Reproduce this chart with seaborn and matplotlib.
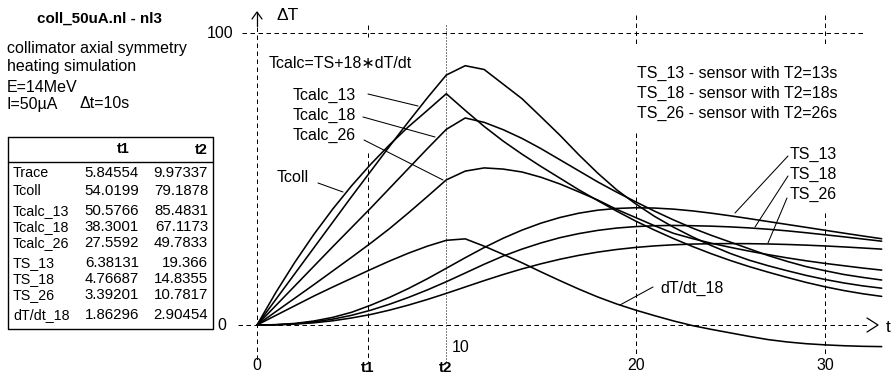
import matplotlib
matplotlib.use("Agg")
import matplotlib.pyplot as plt
import seaborn as sns
import pandas as pd

# ---------------- data ----------------
t = list(range(34))
tcoll = [0, 11.2, 21.5, 31.0, 39.7, 47.7, 55.0, 61.7, 67.9, 73.5,
         79.2, 73.5, 68.0, 63.0, 58.5, 54.3, 50.3, 46.3, 42.6, 39.0,
         35.6, 32.5, 29.6, 26.9, 24.4, 22.1, 20.0, 18.1, 16.3, 14.6,
         13.1, 11.8, 10.7, 9.8]
tcalc_13 = [0, 8.8, 17.6, 26.4, 35.2, 44.0, 52.6, 61.2, 69.6, 77.8,
            85.6, 88.8, 87.5, 82.5, 77.5, 71.3, 65.0, 58.3, 52.0, 46.3,
            41.5, 37.2, 33.5, 30.2, 27.2, 24.5, 22.2, 20.3, 18.6, 17.0,
            15.6, 14.4, 13.4, 12.6]
tcalc_18 = [0, 6.7, 13.4, 20.1, 26.8, 33.4, 40.0, 46.8, 53.6, 60.4,
            67.0, 70.9, 69.4, 66.9, 63.9, 60.4, 56.6, 52.8, 49.0, 45.5,
            42.2, 39.0, 36.0, 33.2, 30.7, 28.4, 26.1, 23.8, 21.8, 20.0,
            18.6, 17.3, 16.3, 15.4]
tcalc_26 = [0, 4.6, 9.2, 13.8, 18.5, 23.2, 28.0, 33.0, 38.4, 44.0,
            49.7, 52.7, 53.8, 53.4, 52.4, 50.6, 48.3, 45.6, 42.8, 39.6,
            36.8, 34.0, 31.4, 29.6, 28.0, 26.6, 25.3, 24.1, 23.0, 22.0,
            21.1, 20.3, 19.5, 18.8]
ts_13 = [0, 0.11, 0.54, 1.36, 2.61, 4.36, 6.76, 9.46, 12.5, 15.84,
         19.42, 23.04, 26.52, 29.7, 32.5, 34.88, 36.81, 38.29, 39.32, 39.92,
         40.15, 40.05, 39.68, 39.08, 38.3, 37.4, 36.43, 35.43, 34.44, 33.45,
         32.45, 31.46, 30.49, 29.54]
ts_18 = [0, 0.09, 0.41, 1.04, 2.0, 3.33, 5.05, 7.11, 9.44, 12.02,
         14.82, 17.8, 20.8, 23.6, 26.0, 28.1, 29.9, 31.3, 32.4, 33.2,
         33.7, 34.0, 34.1, 34.0, 33.85, 33.6, 33.25, 32.8, 32.25, 31.6,
         30.9, 30.2, 29.45, 28.7]
ts_26 = [0, 0.06, 0.3, 0.75, 1.44, 2.41, 3.59, 5.09, 6.82, 8.74,
         10.83, 13.02, 15.2, 17.28, 19.21, 20.96, 22.51, 23.85, 24.96, 25.86,
         26.56, 27.09, 27.47, 27.71, 27.84, 27.88, 27.85, 27.75, 27.58, 27.35,
         27.07, 26.74, 26.37, 25.98]
dtdt_18 = [0, 3.3, 6.6, 9.9, 13.0, 16.0, 19.0, 21.9, 24.6, 27.0,
           29.0, 29.5, 27.0, 24.2, 21.3, 18.2, 15.2, 12.3, 9.6, 7.2,
           5.1, 3.2, 1.4, -0.2, -1.5, -2.7, -3.9, -5.0, -5.8, -6.4,
           -6.8, -7.1, -7.3, -7.4]

table_rows = ["Trace", "Tcoll", "Tcalc_13", "Tcalc_18", "Tcalc_26",
              "TS_13", "TS_18", "TS_26", "dT/dt_18"]
table_t1 = ["5.84554", "54.0199", "50.5766", "38.3001", "27.5592",
            "6.38131", "4.76687", "3.39201", "1.86296"]
table_t2 = ["9.97337", "79.1878", "85.4831", "67.1173", "49.7833",
            "19.366", "14.8355", "10.7817", "2.90454"]
t1_val, t2_val = 5.85, 9.97
x_ticks = [0, 10, 20, 30]
y_ticks = [0, 100]

# ---------------- setup ----------------
sns.set_theme(style="white")
plt.rcParams['font.family'] = ['Liberation Sans', 'DejaVu Sans']

W, H = 896, 374
fig = plt.figure(figsize=(W / 100, H / 100), dpi=100)
fig.patch.set_facecolor('white')
ax = fig.add_axes([0, 0, 1, 1])
X0, SX = 257.0, 18.93
Y0, SY = 325.0, 2.92
XL = ((0 - X0) / SX, (W - X0) / SX)
YL = ((Y0 - H) / SY, Y0 / SY)


def dx(px):
    return (px - X0) / SX


def dy(py):
    return (Y0 - py) / SY


K = 'black'
DASH = (0, (4.5, 3.5))
DOT = (0, (1, 2))
GLW = 0.72


def vseg(xv, y_top_px, y_bot_px, ls=DASH):
    ax.plot([xv, xv], [dy(y_top_px), dy(y_bot_px)], color=K, lw=GLW, ls=ls)


# grid / reference lines
ax.plot([dx(242), dx(866)], [100, 100], color=K, lw=GLW, ls=DASH)
ax.plot([dx(238), dx(870)], [0, 0], color=K, lw=GLW, ls=DASH)
vseg(0, 27, 360)
vseg(t1_val, 25, 37)
vseg(t1_val, 153, 362)
vseg(t2_val, 25, 362, ls=DOT)
vseg(20, 15, 47)
vseg(20, 133, 357)
vseg(30, 15, 47)
vseg(30, 213, 357)

# axis arrows
ax.plot([dx(257), dx(257)], [dy(26), dy(12)], color=K, lw=0.9)
ax.plot([dx(252), dx(257), dx(262)], [dy(19), dy(12), dy(19)], color=K, lw=0.9)
ax.plot([dx(867), dx(878), dx(867)], [dy(318), dy(325), dy(332)], color=K, lw=0.9)

# ---------------- curves ----------------
df = pd.DataFrame({"t": t, "Tcoll": tcoll, "Tcalc_13": tcalc_13,
                   "Tcalc_18": tcalc_18, "Tcalc_26": tcalc_26,
                   "TS_13": ts_13, "TS_18": ts_18, "TS_26": ts_26,
                   "dT/dt_18": dtdt_18})
for col in df.columns[1:]:
    sns.lineplot(data=df, x="t", y=col, color=K, lw=1.15, ax=ax,
                 estimator=None, legend=False)
ax.set_xlim(*XL)
ax.set_ylim(*YL)
ax.axis('off')

FS = 11.5


def ptxt(x, y, s, **kw):
    kw.setdefault('fontsize', FS)
    kw.setdefault('va', 'center')
    kw.setdefault('ha', 'left')
    ax.text(dx(x), dy(y), s, color=K, **kw)


def lead(x1, y1, x2, y2):
    ax.plot([dx(x1), dx(x2)], [dy(y1), dy(y2)], color=K, lw=0.75)


# curve labels and leaders
ptxt(269, 63, "Tcalc=TS+18\u2217dT/dt", fontsize=11.5)
ptxt(293, 95, "Tcalc_13"); lead(368, 94, 418, 106)
ptxt(293, 115, "Tcalc_18"); lead(363, 117, 435, 137)
ptxt(293, 135, "Tcalc_26"); lead(364, 140, 443, 180)
ptxt(277, 178, "Tcoll"); lead(318, 183, 343, 192)
ptxt(637, 73, "TS_13 - sensor with T2=13s")
ptxt(637, 93, "TS_18 - sensor with T2=18s")
ptxt(637, 113, "TS_26 - sensor with T2=26s")
ptxt(790, 154, "TS_13"); lead(788, 156, 735, 213)
ptxt(790, 174, "TS_18"); lead(788, 176, 755, 227)
ptxt(790, 194, "TS_26"); lead(787, 198, 768, 243)
ptxt(660, 288, "dT/dt_18"); lead(653, 287, 620, 305)

# axis texts
ptxt(276, 15, "\u0394T", fontsize=12.5)
ptxt(886, 327, "t", fontsize=12.5)
for xv in x_ticks:
    if xv == 10:
        ptxt(X0 + xv * SX + 5, 348, str(xv))
    else:
        ptxt(X0 + xv * SX, 366, str(xv), ha='center')
ptxt(X0 + t1_val * SX, 368, "t1", ha='center', fontweight='bold', fontsize=11)
ptxt(X0 + t2_val * SX, 368, "t2", ha='center', fontweight='bold', fontsize=11)
for yv in y_ticks:
    ptxt(233 if yv == 100 else 226, Y0 - yv * SY, str(yv), ha='right')

# left panel
ptxt(37, 19, "coll_50uA.nl - nl3", fontweight='bold', fontsize=10.9)
ptxt(7, 48, "collimator axial symmetry")
ptxt(7, 67, "heating simulation")
ptxt(7, 87, "E=14MeV")
ptxt(7, 104, "I=50\u00b5A")
ptxt(79, 104, "\u0394t=10s")

# table
ax.plot([dx(8), dx(213), dx(213), dx(8), dx(8)],
        [dy(137), dy(137), dy(329), dy(329), dy(137)], color=K, lw=1.0)
ax.plot([dx(8), dx(213)], [dy(162), dy(162)], color=K, lw=1.0)
ptxt(123, 149, "t1", ha='center', fontweight='bold', fontsize=10.5)
ptxt(201, 150, "t2", ha='center', fontweight='bold', fontsize=10.5)
row_y = [173, 191, 211, 227, 243, 263, 279, 295, 315]
for yy, name, a, b in zip(row_y, table_rows, table_t1, table_t2):
    ptxt(13, yy, name, fontsize=10.3)
    ptxt(139, yy, a, ha='right', fontsize=10.8)
    ptxt(208, yy, b, ha='right', fontsize=10.8)

fig.savefig("out.png", dpi=100, facecolor='white')
